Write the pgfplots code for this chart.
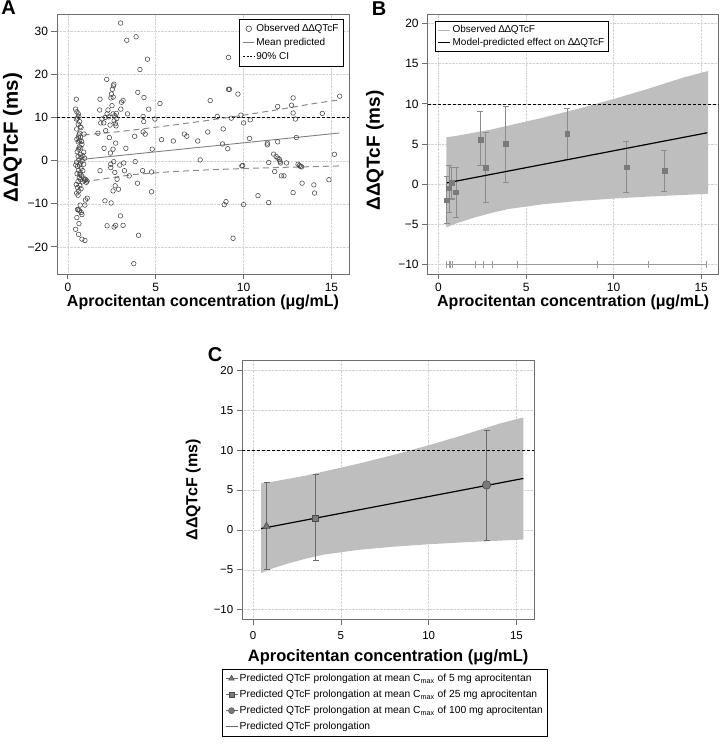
\documentclass[border=0pt]{standalone}
\usepackage{fontspec}
\setmainfont{Liberation Sans}
\usepackage{pgfplots}
\pgfplotsset{compat=1.18}
\usepackage{pgfplotstable}

\definecolor{axisgray}{HTML}{6E6E6E}
\definecolor{gridgray}{HTML}{D2D2D2}
\definecolor{bandgray}{HTML}{BEBEBE}
\definecolor{ptgray}{HTML}{7A7A7A}
\definecolor{errgray}{HTML}{8C8C8C}
\definecolor{circgray}{HTML}{454545}
\definecolor{linegray}{HTML}{808080}
\definecolor{cigray}{HTML}{8A8A8A}
\definecolor{ruggray}{HTML}{9A9A9A}
\definecolor{cbar}{HTML}{6A6A6A}
\definecolor{cfill}{HTML}{7A7A7A}
\definecolor{cedge}{HTML}{4A4A4A}

\pgfplotstableread{
x y
0.48 14.3
0.44 12.0
0.51 11.4
0.59 10.9
0.62 10.3
0.48 9.7
0.55 9.9
0.67 9.1
0.59 8.5
0.70 7.9
0.50 7.4
0.75 7.7
0.67 6.4
0.63 6.0
0.72 5.5
0.51 5.0
0.59 4.4
0.67 4.7
0.78 4.5
0.61 2.7
0.53 2.1
0.65 3.2
0.80 3.8
0.70 1.5
0.58 1.0
0.75 0.8
0.85 1.2
0.62 0.2
0.50 -0.3
0.72 -0.5
0.80 0.0
0.66 -1.0
0.55 -1.3
0.90 -0.8
0.75 -1.8
0.60 -2.2
0.85 -2.3
0.70 -2.8
0.52 -3.0
0.78 -3.5
0.65 -3.9
0.88 -4.0
0.72 -4.4
0.58 -4.8
0.82 -4.9
0.95 -4.5
1.05 -5.0
0.48 -5.5
0.68 -5.8
0.55 -6.2
0.75 -6.5
0.62 -7.0
0.50 -7.5
0.58 -8.0
0.70 -10.3
0.97 -10.3
1.10 -8.7
1.00 -9.1
0.76 -12.0
0.59 -11.4
0.55 -11.3
0.51 -13.2
0.44 -15.9
0.63 -14.6
0.61 -17.1
0.80 -18.2
0.97 -18.5
0.66 -11.6
0.80 -12.5
0.92 6.2
1.00 -4.3
1.09 -4.7
0.90 2.0
0.95 0.6
0.45 -1.0
0.60 5.5
0.68 -3.2
0.73 3.0
1.83 14.3
1.81 11.8
1.71 6.4
1.83 -2.3
2.06 2.9
2.15 7.0
2.21 18.9
2.11 -9.3
2.23 -15.1
2.32 10.2
2.28 11.8
2.36 5.4
2.42 1.8
2.44 -0.8
2.44 -1.6
2.48 15.5
2.53 16.6
2.59 17.4
2.62 17.8
2.45 14.6
2.51 12.8
2.57 10.9
2.63 9.3
2.67 10.5
2.46 -9.8
2.57 2.7
2.61 -0.2
2.67 -2.7
2.57 -7.0
2.69 -5.8
2.80 -4.3
2.72 4.1
2.74 8.1
2.76 11.0
2.63 -15.4
2.72 -15.0
2.78 9.8
2.88 -6.6
2.95 -1.0
3.05 13.6
3.14 14.0
3.01 12.0
2.99 -12.8
3.14 -15.0
3.18 -0.5
3.22 -2.3
3.30 2.9
3.39 10.9
3.35 28.0
3.00 32.0
3.49 -3.5
1.94 9.7
2.04 8.8
2.23 10.9
2.13 10.1
1.87 8.8
2.58 14.8
2.70 8.6
2.40 8.3
3.88 28.8
4.53 23.6
4.10 21.2
3.98 15.9
4.33 14.7
4.60 12.0
5.24 13.3
4.28 10.3
4.32 9.1
4.95 9.7
3.80 5.7
4.28 6.7
4.40 6.2
4.80 2.7
3.83 -0.2
3.96 -5.2
4.25 -2.3
4.76 -2.6
4.76 -7.2
3.75 -23.9
4.02 -17.3
5.33 4.9
6.00 4.6
6.63 6.2
6.77 5.7
7.39 4.6
7.53 0.2
7.96 6.7
8.10 14.0
8.50 10.3
8.84 7.4
8.80 3.9
9.10 2.8
9.14 24.0
9.14 16.6
9.20 16.6
9.68 15.5
9.85 10.6
10.00 8.8
10.38 9.5
10.34 5.2
9.90 -1.2
9.95 -1.1
8.90 -10.2
9.00 -9.5
10.00 -10.2
9.40 -18.0
10.82 -8.1
9.30 9.9
11.94 12.6
12.82 14.6
12.73 12.9
12.82 11.1
12.95 9.7
14.48 11.0
15.47 15.0
13.00 5.4
11.94 4.4
11.35 4.1
11.35 3.7
11.71 1.55
11.85 1.0
11.95 0.6
12.05 0.3
12.07 -0.1
12.10 -0.5
12.44 -0.5
11.43 -0.4
11.77 -2.5
12.15 -3.5
12.30 -3.5
13.10 -0.8
13.18 -1.1
13.24 -1.3
13.30 -1.4
13.33 -5.2
12.82 -7.4
14.00 -5.6
14.04 -7.5
14.86 -4.4
15.17 1.5
11.43 -9.7
}\scatterA

\pgfplotstableread{
x y
0.9 6.0
2 6.4
3 6.8
4 7.3
5 7.8
6 8.3
7 8.85
8 9.4
9 10.0
10 10.6
11 11.25
12 11.9
13 12.6
14 13.3
15.45 14.15
}\upperA
\pgfplotstableread{
x y
0.9 -4.95
2 -4.2
3 -3.6
4 -3.1
5 -2.8
6 -2.5
7 -2.3
8 -2.1
10 -1.8
12 -1.55
14 -1.35
15.45 -1.2
}\lowerA

\pgfplotstableread{
x y
0.45 5.85
1 6.0
2 6.4
3 6.8
4 7.3
5 7.8
6 8.3
7 8.85
8 9.4
9 10.0
10 10.6
11 11.25
12 11.9
13 12.6
14 13.3
15.4 14.1
15.4 -1.2
14 -1.35
12 -1.55
10 -1.8
8 -2.1
7 -2.3
6 -2.5
5 -2.8
4 -3.1
3 -3.6
2 -4.2
1 -4.9
0.45 -5.4
}\bandpoly

\pgfplotstableread{
x y ep em
0.47 -2.0 2.9 2.9
0.60 -0.5 2.85 3.0
0.75 0.15 1.9 2.0
1.00 -1.0 3.1 3.2
2.39 5.53 3.5 3.2
2.70 2.08 4.4 4.4
3.83 5.0 4.7 4.8
7.35 6.27 3.2 3.17
10.73 2.1 3.26 3.14
12.90 1.66 2.54 2.56
}\obsB

\pgfplotstableread{
x y
0.47 -10
0.60 -10
0.70 -10
0.80 -10
2.10 -10
2.57 -10
3.10 -10
4.50 -10
9.10 -10
12.00 -10
15.30 -10
}\rugB

\pgfplotstableread{
x y ep em
0.76 0.46 5.44 5.46
3.56 1.44 5.46 5.24
13.30 5.63 6.85 6.93
}\predC

\pgfplotsset{
  panel/.style={
    scale only axis,
    anchor=south west,
    xmin=-0.62, xmax=16.0,
    xtick={0,5,10,15},
    axis line style={draw=axisgray, line width=0.9pt},
    tick align=outside,
    tick pos=left,
    major tick length=5.5pt,
    every tick/.style={draw=axisgray, line width=0.8pt},
    grid=major,
    grid style={draw=gridgray, densely dotted, line width=0.5pt},
    tick label style={font=\fontsize{12}{14}\selectfont, text=black},
    /pgf/number format/assume math mode=true,
    xlabel={Aprocitentan concentration (μg/mL)},
    ylabel={ΔΔQTcF (ms)},
    x label style={font=\bfseries\fontsize{16}{18}\selectfont, anchor=center},
    y label style={font=\bfseries\fontsize{19}{20}\selectfont, anchor=center},
    legend cell align=left,
  },
  refline/.style={black, line width=0.6pt, dash pattern=on 3pt off 2pt},
}

\begin{document}
\begin{tikzpicture}[x=1pt,y=1pt]
\path[use as bounding box] (0,0) rectangle (721,745);

% ---------------- Panel A ----------------
\begin{axis}[panel,
  at={(57pt,471pt)}, width=292pt, height=260pt,
  ymin=-26.3, ymax=34.1,
  ytick={-20,-10,0,10,20,30},
  yticklabels={−20,−10,0,10,20,30},
  x label style={at={(axis description cs:0.5,-0.108)}},
  y label style={at={(axis description cs:-0.152,0.525)}, font=\bfseries\fontsize{20.5}{22}\selectfont},
  legend style={at={(axis description cs:0.983,0.981)}, anchor=north east,
    draw=black, line width=0.7pt, font=\fontsize{10}{12}\selectfont,
    inner sep=3.5pt, row sep=2pt,
    nodes={inner sep=1.6pt, text=black}},
  legend image code/.code={\draw[#1] (0pt,0pt) -- (11pt,0pt);},
]
\addplot[refline, forget plot] coordinates {(-0.62,10) (16.0,10)};
\addplot[only marks, mark=o, mark size=2.3pt, draw=circgray, mark options={line width=0.55pt},
  legend image code/.code={\draw[circgray, line width=0.6pt] (5.5pt,0pt) circle (2.8pt);}]
  table {\scatterA};
\addlegendentry{Observed ∆∆QTcF}
\addplot[linegray, line width=0.9pt] coordinates {(0.86,0.35) (15.45,6.45)};
\addlegendentry{Mean predicted}
\addplot[cigray, line width=1pt, dash pattern=on 6pt off 4pt,
  legend image code/.code={\draw[black, line width=0.7pt, dash pattern=on 2pt off 1.5pt] (0pt,0pt) -- (11pt,0pt);}]
  table {\upperA};
\addlegendentry{90\% CI}
\addplot[cigray, line width=1pt, dash pattern=on 6pt off 4pt, forget plot] table {\lowerA};
\end{axis}

% ---------------- Panel B ----------------
\begin{axis}[panel,
  at={(427.7pt,471pt)}, width=291pt, height=260pt,
  ymin=-11.2, ymax=21.2,
  ytick={-10,-5,0,5,10,15,20},
  yticklabels={−10,−5,0,5,10,15,20},
  x label style={at={(axis description cs:0.5,-0.108)}},
  y label style={at={(axis description cs:-0.181,0.475)}},
  legend style={at={(axis description cs:0.025,0.973)}, anchor=north west,
    draw=black, line width=0.7pt, font=\fontsize{10}{12}\selectfont,
    inner sep=2.5pt, row sep=0.5pt,
    nodes={inner sep=1.8pt, text=black}},
  legend image code/.code={\draw[#1] (0pt,0pt) -- (12pt,0pt);},
]
\addlegendimage{color=bandgray!85!gray, line width=0.9pt}
\addlegendentry{Observed ∆∆QTcF}
\addlegendimage{black, line width=1pt}
\addlegendentry{Model-predicted effect on ∆∆QTcF}
\addplot[fill=bandgray, draw=none, forget plot] table {\bandpoly} -- cycle;
\addplot[refline, forget plot] coordinates {(-0.62,10) (16.0,10)};
\addplot[ruggray, line width=0.8pt, forget plot] coordinates {(0.47,-10) (15.3,-10)};
\addplot[only marks, mark=|, mark size=3.3pt, ruggray, mark options={line width=0.8pt}, forget plot] table {\rugB};
\addplot[only marks, mark=square*, mark size=2.4pt, color=ptgray, forget plot,
  error bars/.cd, y dir=both, y explicit,
  error bar style={errgray, line width=1.1pt},
  error mark options={rotate=90, mark size=3pt, line width=1.1pt, errgray},
  ] table[x=x, y=y, y error plus=ep, y error minus=em] {\obsB};
\addplot[black, line width=1.2pt, forget plot] coordinates {(0.47,0.15) (15.35,6.4)};
\end{axis}

% ---------------- Panel C ----------------
\begin{axis}[panel,
  at={(242.3pt,125.7pt)}, width=291.7pt, height=258.6pt,
  ymin=-11.2, ymax=21.2,
  ytick={-10,-5,0,5,10,15,20},
  yticklabels={−10,−5,0,5,10,15,20},
  tick label style={font=\fontsize{11.5}{13}\selectfont},
  xticklabel style={yshift=-3pt},
  x label style={at={(axis description cs:0.5,-0.147)}, font=\bfseries\fontsize{16.5}{18}\selectfont},
  y label style={at={(axis description cs:-0.168,0.5)}, font=\bfseries\fontsize{16}{18}\selectfont},
  legend style={at={(axis description cs:0.489,-0.192)}, anchor=north,
    draw=black, line width=0.7pt, font=\fontsize{10.3}{12}\selectfont,
    inner sep=3pt, row sep=3.5pt,
    nodes={inner sep=1.8pt, text=black}},
  legend image code/.code={\draw[mark repeat=2, mark phase=2, #1] plot coordinates {(0pt,0pt) (6pt,0pt) (12pt,0pt)};},
]
\addlegendimage{cbar, line width=0.8pt, mark=triangle*, mark size=3.3pt, mark options={fill=cfill, draw=cedge, line width=0.5pt}}
\addlegendentry{Predicted QTcF prolongation at mean C\textsubscript{max} of 5 mg aprocitentan}
\addlegendimage{cbar, line width=0.8pt, mark=square*, mark size=2.6pt, mark options={fill=cfill, draw=cedge, line width=0.5pt}}
\addlegendentry{Predicted QTcF prolongation at mean C\textsubscript{max} of 25 mg aprocitentan}
\addlegendimage{cbar, line width=0.8pt, mark=*, mark size=3pt, mark options={fill=cfill, draw=cedge, line width=0.5pt}}
\addlegendentry{Predicted QTcF prolongation at mean C\textsubscript{max} of 100 mg aprocitentan}
\addlegendimage{cbar, line width=0.7pt}
\addlegendentry{Predicted QTcF prolongation}
\addplot[fill=bandgray, draw=none, forget plot] table {\bandpoly} -- cycle;
\addplot[refline, forget plot] coordinates {(-0.62,10) (16.0,10)};
\addplot[black, line width=1.2pt, forget plot] coordinates {(0.45,0.17) (15.4,6.45)};
\addplot[only marks, draw=none, forget plot,
  error bars/.cd, y dir=both, y explicit,
  error bar style={cbar, line width=1.2pt},
  error mark options={rotate=90, mark size=3pt, line width=1.2pt, cbar},
  ] table[x=x, y=y, y error plus=ep, y error minus=em] {\predC};
\addplot[only marks, mark=triangle*, mark size=4pt, forget plot, mark options={fill=cfill, draw=cedge, line width=0.6pt}] coordinates {(0.76,0.46)};
\addplot[only marks, mark=square*, mark size=3pt, forget plot, mark options={fill=cfill, draw=cedge, line width=0.6pt}] coordinates {(3.56,1.44)};
\addplot[only marks, mark=*, mark size=4.2pt, forget plot, mark options={fill=cfill, draw=cedge, line width=0.6pt}] coordinates {(13.30,5.63)};
\end{axis}

% panel letters
\node[font=\bfseries\fontsize{20}{20}\selectfont] at (8.5,737.5) {A};
\node[font=\bfseries\fontsize{20}{20}\selectfont] at (379,736.5) {B};
\node[font=\bfseries\fontsize{20}{20}\selectfont] at (215,390) {C};
\end{tikzpicture}
\end{document}
